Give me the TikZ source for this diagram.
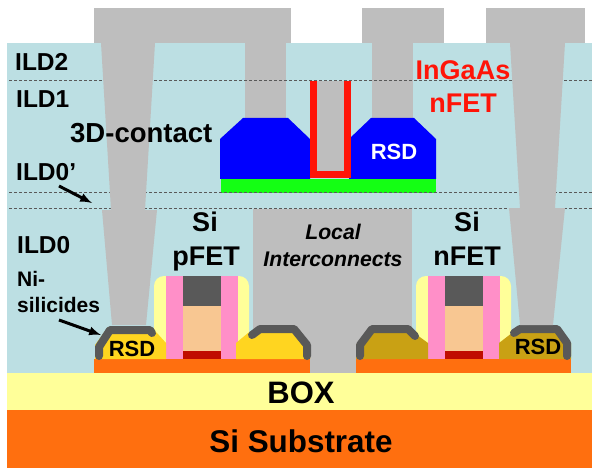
\documentclass[tikz,border=0pt]{standalone}
\usepackage{fontspec}
\setmainfont{Liberation Sans}
\definecolor{ildblue}{HTML}{BCDFE3}
\definecolor{metalgray}{HTML}{BEBEBE}
\definecolor{boxyellow}{HTML}{FFFF99}
\definecolor{subsorange}{HTML}{FF6F0F}
\definecolor{sipink}{HTML}{FF8FC8}
\definecolor{gatedark}{HTML}{595959}
\definecolor{gatepeach}{HTML}{F8C792}
\definecolor{gatered}{HTML}{C00D00}
\definecolor{rsdp}{HTML}{FFD520}
\definecolor{rsdn}{HTML}{C9A114}
\definecolor{ingaasred}{HTML}{FF1408}
\definecolor{rsdblue}{HTML}{0000FF}
\definecolor{channelgreen}{HTML}{14FF14}
\tikzset{
  lab/.style={inner sep=0pt,font=\bfseries\fontsize{#1}{#1}\selectfont,anchor=base west},
  labc/.style={inner sep=0pt,font=\bfseries\fontsize{#1}{#1}\selectfont,anchor=base},
  silicide/.style={draw=gatedark,line width=8pt,line cap=round,line join=round},
  ilddash/.style={black!65,line width=0.8pt,dash pattern=on 3pt off 2pt},
  callout/.style={-latex,line width=3pt}
}
\begin{document}
\begin{tikzpicture}[x=1pt,y=-1pt]
        \useasboundingbox (0,0) rectangle (592,468);
        % stack
        \fill[ildblue] (7,43) rectangle (592,373);
        \fill[boxyellow] (7,373) rectangle (592,410);
        \fill[subsorange] (7,410) rectangle (592,468);
        % metal on top, middle vias and local interconnect
        \fill[metalgray] (94,8) rectangle (291,43);
        \fill[metalgray] (362,8) rectangle (444,43);
        \fill[metalgray] (486,8) rectangle (585,43);
        \fill[metalgray] (245,43) rectangle (286,120);
        \fill[metalgray] (372,43) rectangle (413,120);
        \fill[metalgray] (253,209) rectangle (412,373);
        % Si devices
        \foreach \x in {0,262}{
          \fill[boxyellow,rounded corners=10pt] (154+\x,345) -- (154+\x,276) -- (249+\x,276) -- (249+\x,345) -- cycle;
          \fill[sipink] (166+\x,276) rectangle (238+\x,359);
          \fill[gatedark] (183+\x,276) rectangle (221+\x,306);
          \fill[gatepeach] (183+\x,306) rectangle (221+\x,351);
          \fill[gatered] (183+\x,351) rectangle (221+\x,359);
        }
        \fill[subsorange] (94,359) rectangle (310,373);
        \fill[subsorange] (356,359) rectangle (571,373);
        \fill[rsdp] (95,359) -- (95,345) -- (108,327) -- (150,327) -- (157,333) -- (166,343) -- (166,359) -- cycle;
        \fill[rsdp] (236,359) -- (236,343) -- (248,333) -- (258,327) -- (295,327) -- (310,345) -- (310,359) -- cycle;
        \fill[rsdn] (356,359) -- (356,345) -- (370,327) -- (409,327) -- (417,335) -- (428,343) -- (428,359) -- cycle;
        \fill[rsdn] (499,359) -- (499,343) -- (512,333) -- (520,327) -- (559,327) -- (571,343) -- (571,359) -- cycle;
        \draw[silicide] (99,356) -- (99,347) -- (110,330) -- (150,330) -- (152,333);
        \draw[silicide] (252,335) -- (260,329) -- (294,329) -- (307,345) -- (307,356);
        \draw[silicide] (360,356) -- (360,345) -- (372,329) -- (408,329) -- (415,336);
        \draw[silicide] (514,333) -- (520,329) -- (557,329) -- (567,343) -- (567,356);
        % InGaAs nFET
        \fill[channelgreen] (221,179) rectangle (436,193);
        \fill[rsdblue] (220,179) -- (220,139) -- (243,118) -- (288,118) -- (310,139) -- (310,179) -- cycle;
        \fill[rsdblue] (349,179) -- (349,139) -- (371,118) -- (414,118) -- (436,139) -- (436,179) -- cycle;
        \fill[ingaasred] (310,81) rectangle (351,178);
        \fill[metalgray] (317,81) rectangle (344,171);
        \foreach \y in {80.5,192.5,208.5}
          \draw[ilddash] (9,\y) -- (592,\y);
        % 3D contacts
        \fill[metalgray] (101,43) -- (155,43) -- (145,210) -- (111,210) -- cycle;
        \fill[metalgray] (102,210) -- (157,210) -- (146,325) -- (112,325) -- cycle;
        \fill[metalgray] (510,43) -- (565,43) -- (555,208) -- (520,208) -- cycle;
        \fill[metalgray] (509,208) -- (565,208) -- (553,325) -- (520,325) -- cycle;
        % labels
        \node[lab=24.5] (ILDtwo) at (15,71) {ILD2};
        \node[lab=24.5] (ILDone) at (16,108) {ILD1};
        \node[lab=27.5] (contact) at (70,143) {3D-contact};
        \node[lab=24.5] (ILDprime) at (16,181) {ILD0’};
        \node[lab=24.5] (ILDzero) at (17,253) {ILD0};
        \node[lab=21] (Ni) at (17,286) {Ni-};
        \node[lab=21] (silicides) at (17,312) {silicides};
        \node[labc=27,text=ingaasred] (InGaAs) at (463,80) {InGaAs};
        \node[labc=27,text=ingaasred] (nFETtop) at (463,113) {nFET};
        \node[labc=22,text=white] (RSDtop) at (394,160) {RSD};
        \node[labc=27] (SiP) at (205,231) {Si};
        \node[labc=27] (pFET) at (206,265) {pFET};
        \node[labc=27] (SiN) at (467,231) {Si};
        \node[labc=27] (nFET) at (467,265) {nFET};
        \node[labc=21.2,font=\bfseries\itshape\fontsize{21.2}{21.2}\selectfont] (Local) at (333,239) {Local};
        \node[labc=21.2,font=\bfseries\itshape\fontsize{21.2}{21.2}\selectfont] (Interconnects) at (333,266) {Interconnects};
        \node[labc=22] (RSDp) at (132,356) {RSD};
        \node[labc=22] (RSDn) at (538,354) {RSD};
        \node[labc=31] (BOX) at (301,403) {BOX};
        \node[labc=31.4] (Substrate) at (301,452) {Si Substrate};
        % arrows
        \coordinate (ILDfrom) at (59,186);
        \coordinate (ILDto) at (92,203);
        \coordinate (Nifrom) at (59,320);
        \coordinate (Nito) at (101,335);
        \draw[callout] (ILDfrom) -- (ILDto);
        \draw[callout] (Nifrom) -- (Nito);
    \end{tikzpicture}
\end{document}
